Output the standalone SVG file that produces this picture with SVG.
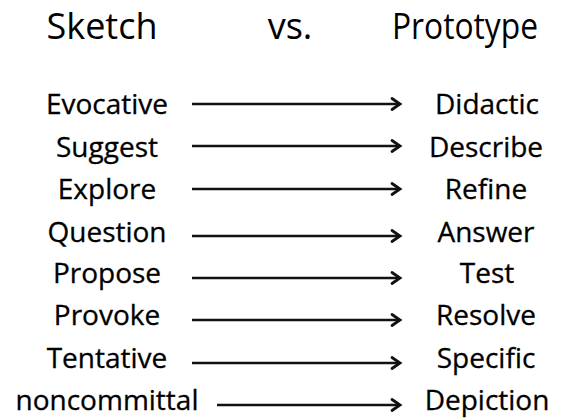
<svg xmlns="http://www.w3.org/2000/svg" width="566" height="419" viewBox="0 0 566 419">
<defs>
<style>
text{font-family:"Open Sans","Noto Sans",sans-serif;fill:#000;text-anchor:middle}
.t{font-size:36px}
.w{font-size:28px;stroke:#000;stroke-width:0.3}
.c line{stroke:#111;stroke-width:2.5;fill:none}
.c path{stroke:#111;stroke-width:2.8;fill:none;stroke-linecap:round;stroke-linejoin:miter}
</style>
</defs>
<rect width="566" height="419" fill="#fff"/>
<g id="title">
<text class="t" x="102" y="39">Sketch</text>
<text class="t" x="290" y="39">vs.</text>
<text class="t" x="465" y="39" textLength="146" lengthAdjust="spacingAndGlyphs">Prototype</text>
</g>
<g id="n-evocative"><text class="w" x="107" y="114">Evocative</text></g>
<g id="n-suggest"><text class="w" x="107" y="157">Suggest</text></g>
<g id="n-explore"><text class="w" x="107" y="199">Explore</text></g>
<g id="n-question"><text class="w" x="107" y="242">Question</text></g>
<g id="n-propose"><text class="w" x="107" y="283">Propose</text></g>
<g id="n-provoke"><text class="w" x="107" y="325">Provoke</text></g>
<g id="n-tentative"><text class="w" x="107" y="368">Tentative</text></g>
<g id="n-noncommittal"><text class="w" x="107" y="410">noncommittal</text></g>
<g id="n-didactic"><text class="w" x="487" y="114">Didactic</text></g>
<g id="n-describe"><text class="w" x="486" y="157">Describe</text></g>
<g id="n-refine"><text class="w" x="486" y="199">Refine</text></g>
<g id="n-answer"><text class="w" x="486" y="242">Answer</text></g>
<g id="n-test"><text class="w" x="487" y="283">Test</text></g>
<g id="n-resolve"><text class="w" x="486" y="325">Resolve</text></g>
<g id="n-specific"><text class="w" x="486" y="368">Specific</text></g>
<g id="n-depiction"><text class="w" x="487" y="410">Depiction</text></g>
<g id="connectors" class="c">
<line x1="192" y1="104" x2="400" y2="104"/><path d="M392 98.5 L400 104 L392 109.5"/>
<line x1="192" y1="146" x2="400" y2="146"/><path d="M392 140.5 L400 146 L392 151.5"/>
<line x1="192" y1="189" x2="400" y2="189"/><path d="M392 183.5 L400 189 L392 194.5"/>
<line x1="192" y1="236" x2="400" y2="236"/><path d="M392 230.5 L400 236 L392 241.5"/>
<line x1="192" y1="278" x2="400" y2="278"/><path d="M392 272.5 L400 278 L392 283.5"/>
<line x1="192" y1="320" x2="400" y2="320"/><path d="M392 314.5 L400 320 L392 325.5"/>
<line x1="192" y1="363" x2="400" y2="363"/><path d="M392 357.5 L400 363 L392 368.5"/>
<line x1="217" y1="405" x2="400" y2="405"/><path d="M392 399.5 L400 405 L392 410.5"/>
</g>
</svg>
